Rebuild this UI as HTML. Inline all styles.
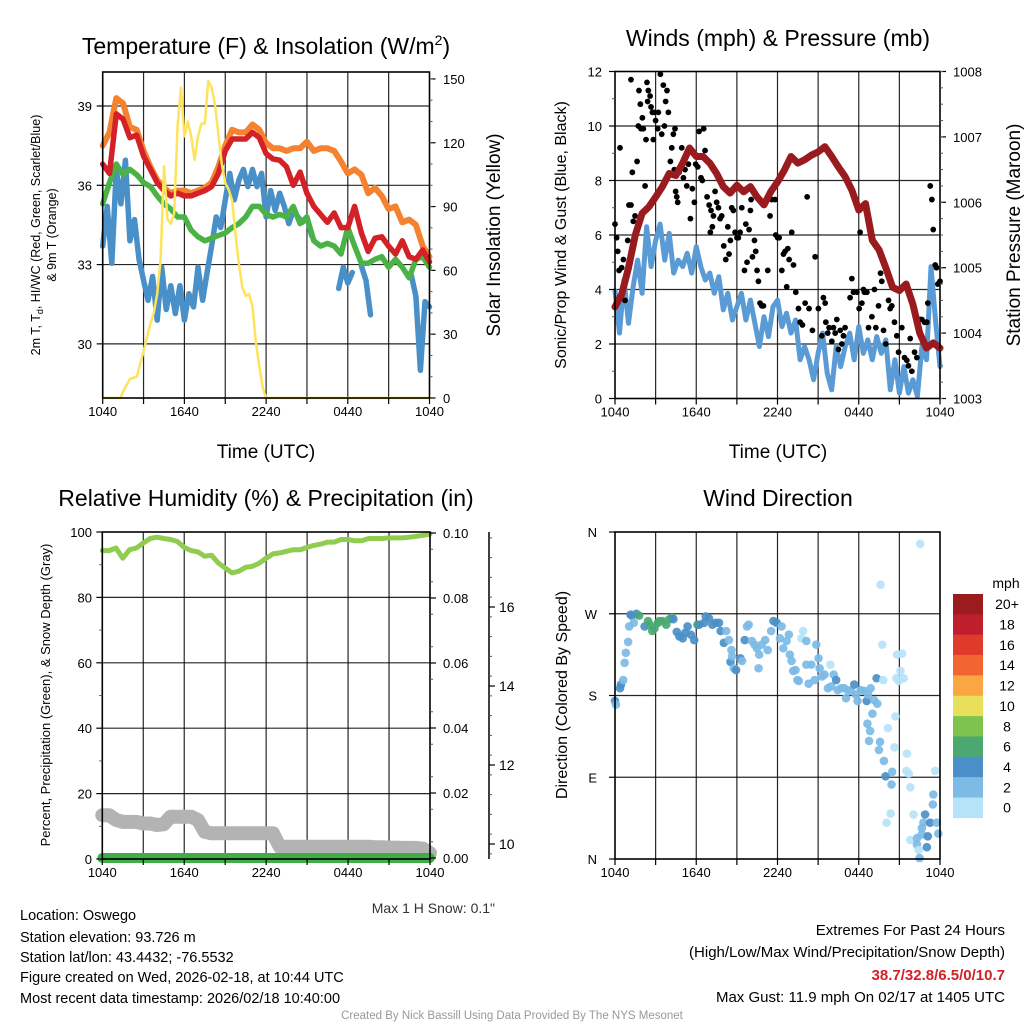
<!DOCTYPE html>
<html><head><meta charset="utf-8"><style>
html,body{margin:0;padding:0;background:#fff;}
svg{display:block;font-family:"Liberation Sans",Arial,sans-serif;}
</style></head><body>
<svg id="c" width="1024" height="1024" viewBox="0 0 1024 1024">
<g id="grid"></g><g id="marks"></g><g id="axes"></g>
<g id="texts" fill="#000">
<text x="266" y="54" font-size="23" text-anchor="middle">Temperature (F) &amp; Insolation (W/m<tspan dy="-9" font-size="14">2</tspan><tspan dy="9">)</tspan></text>
<text x="778" y="46" font-size="23" text-anchor="middle">Winds (mph) &amp; Pressure (mb)</text>
<text x="266" y="506" font-size="23" text-anchor="middle">Relative Humidity (%) &amp; Precipitation (in)</text>
<text x="778" y="506" font-size="23" text-anchor="middle">Wind Direction</text>
<text x="266" y="458" font-size="19" text-anchor="middle">Time (UTC)</text>
<text x="778" y="458" font-size="19" text-anchor="middle">Time (UTC)</text>
<text transform="translate(40,235) rotate(-90)" font-size="12.5" text-anchor="middle">2m T, T<tspan dy="3" font-size="9">d</tspan><tspan dy="-3">, HI/WC (Red, Green, Scarlet/Blue)</tspan></text>
<text transform="translate(56,235) rotate(-90)" font-size="12.5" text-anchor="middle">&amp; 9m T (Orange)</text>
<text transform="translate(500,235) rotate(-90)" font-size="19" text-anchor="middle">Solar Insolation (Yellow)</text>
<text transform="translate(566,235) rotate(-90)" font-size="16" text-anchor="middle">Sonic/Prop Wind &amp; Gust (Blue, Black)</text>
<text transform="translate(1020,235) rotate(-90)" font-size="19" text-anchor="middle">Station Pressure (Maroon)</text>
<text transform="translate(50,695) rotate(-90)" font-size="13" text-anchor="middle">Percent, Precipitation (Green), &amp; Snow Depth (Gray)</text>
<text transform="translate(567,695) rotate(-90)" font-size="16" text-anchor="middle">Direction (Colored By Speed)</text>
<text x="495" y="913" font-size="14" text-anchor="end" fill="#333">Max 1 H Snow: 0.1"</text>
<g font-size="14.5">
<text x="20" y="920">Location: Oswego</text>
<text x="20" y="942">Station elevation: 93.726 m</text>
<text x="20" y="962">Station lat/lon: 43.4432; -76.5532</text>
<text x="20" y="982">Figure created on Wed, 2026-02-18, at 10:44 UTC</text>
<text x="20" y="1003">Most recent data timestamp: 2026/02/18 10:40:00</text>
</g>
<g font-size="15" text-anchor="end">
<text x="1005" y="935">Extremes For Past 24 Hours</text>
<text x="1005" y="957">(High/Low/Max Wind/Precipitation/Snow Depth)</text>
<text x="1005" y="980" fill="#d42027" font-weight="bold">38.7/32.8/6.5/0/10.7</text>
<text x="1005" y="1002">Max Gust: 11.9 mph On 02/17 at 1405 UTC</text>
</g>
<text x="512" y="1019" font-size="11.5" text-anchor="middle" fill="#999">Created By Nick Bassill Using Data Provided By The NYS Mesonet</text>
</g>
</svg>
<script>
// ---- data ----
const xTickLabels = ["1040","1640","2240","0440","1040"];
const tempTicks = [30,33,36,39];
const solarTicks = [0,30,60,90,120,150];
const windTicks = [0,2,4,6,8,10,12];
const pressTicks = [1003,1004,1005,1006,1007,1008];
const rhTicks = [0,20,40,60,80,100];
const precipTicks = ["0.00","0.02","0.04","0.06","0.08","0.10"];
const snowTicks = [10,12,14,16];
const dirTicks = ["N","E","S","W","N"];
const speedBins = ["0","2","4","6","8","10","12","14","16","18","20+"];
// half-hour series (0..24 h)
const temp9m = [37.5,38.0,39.3,39.1,38.2,38.1,37.3,36.7,36.2,35.9,35.7,35.8,35.8,35.7,35.8,35.9,36.1,36.7,37.5,38.1,38.0,38.0,38.3,38.1,37.6,37.4,37.4,37.3,37.4,37.4,37.65,37.3,37.4,37.4,37.3,36.9,36.45,36.6,36.4,35.7,35.9,35.6,35.1,35.2,34.6,34.7,34.5,33.7,33.3];
const temp2m = [36.8,36.45,38.7,38.5,37.8,37.9,37.1,36.6,36.1,35.8,35.6,35.7,35.6,35.6,35.7,35.8,35.95,36.45,37.3,37.75,37.75,37.75,38.0,37.8,37.2,37.0,36.95,36.7,36.0,36.5,35.7,35.2,34.9,34.6,34.95,34.4,34.4,35.2,34.2,33.5,34.0,34.05,33.7,33.4,33.9,33.3,33.2,33.55,33.1];
const dewpt = [35.3,36.1,36.8,36.4,36.6,36.4,36.1,35.95,35.6,35.3,35.1,34.8,34.8,34.3,34.05,33.9,34.0,34.1,34.2,34.4,34.55,34.8,35.2,35.2,34.9,34.8,34.9,34.8,35.2,34.55,34.8,33.9,33.7,33.8,33.7,33.4,34.4,33.7,33.05,33.05,33.2,33.3,32.9,33.2,32.9,32.5,33.2,33.3,32.9];
// 20-minute series (0..24 h), null = missing
const windChill = [33.7,35.2,33.05,36.6,35.3,36.95,33.9,34.7,33.2,32.4,31.65,32.55,30.9,32.9,31.3,32.2,31.15,32.2,30.9,31.9,31.4,32.9,31.65,32.7,33.7,34.8,34.4,35.45,36.45,35.45,36.2,36.6,35.95,36.6,35.95,36.45,34.8,35.8,35.05,35.7,35.2,34.55,35.05,34.8,34.6,34.8,34.1,null,null,null,null,null,32.1,32.9,32.3,32.7,null,32.95,32.4,31.1,null,null,null,null,null,null,null,null,32.6,31.8,29.0,31.6,31.4];
const solarTimes = [0,1.3,1.5,2,2.5,3,3.5,3.75,4,4.25,4.5,4.75,5,5.25,5.5,5.75,6,6.25,6.5,6.75,7,7.25,7.5,7.75,8,8.25,8.5,8.75,9,9.25,9.5,9.75,10,10.25,10.5,10.75,11,11.25,11.5,11.75,12,24];
const solarVals = [0,0,3,9,10,22,35,40,49,65,109,84,82,87,128,146,123,130,123,112,123,129,129,149,146,138,124,110,101,98,93,77,63,52,48,49,43,26,15,5,0,0];
const pressure = [1004.40,1004.6,1005.0,1005.5,1005.83,1005.93,1006.08,1006.24,1006.44,1006.41,1006.6,1006.83,1006.7,1006.7,1006.6,1006.44,1006.24,1006.14,1006.26,1006.16,1006.24,1006.08,1005.96,1006.16,1006.31,1006.49,1006.7,1006.6,1006.65,1006.72,1006.77,1006.85,1006.7,1006.54,1006.39,1006.18,1005.88,1005.98,1005.42,1005.27,1005.0,1004.7,1004.65,1004.75,1004.44,1004.0,1003.77,1003.85,1003.77];
const sonicWind = [3.96,2.4,4.35,2.76,4.1,5.08,3.86,6.3,4.84,5.8,6.4,5.08,6.06,4.6,5.08,4.84,5.33,4.6,5.57,4.84,4.35,4.6,3.86,4.47,3.25,3.86,2.88,3.37,3.86,2.88,3.61,2.76,1.91,3.0,2.27,3.37,3.61,2.64,3.13,2.4,2.88,1.42,1.91,1.42,0.69,1.66,2.4,0.93,0.32,1.91,1.17,1.91,2.4,1.42,2.64,1.66,2.15,1.42,2.27,1.66,2.15,0.32,1.42,0.2,1.17,0.2,0.69,0.08,1.91,1.42,4.84,2.88,1.17];
const gustTimes = [0,0.12,0.2,0.3,0.37,0.49,0.62,0.74,0.94,1.03,1.18,1.28,1.35,1.48,1.63,1.18,1.77,1.87,1.72,2.02,1.92,2.09,2.22,2.29,2.36,2.46,2.59,2.41,2.66,2.76,2.83,2.91,3.0,3.15,3.2,3.35,3.45,3.57,3.65,3.74,3.84,3.94,4.09,4.19,4.31,4.43,4.38,4.48,4.56,4.63,4.73,4.93,5.05,5.17,5.3,5.42,5.57,5.71,5.86,5.96,6.11,6.21,6.35,6.45,6.55,6.65,6.8,6.95,7.04,7.09,7.19,7.27,7.39,7.51,7.64,7.76,7.88,8.03,8.18,8.33,8.42,8.52,8.62,8.74,8.87,9.01,9.11,9.24,9.36,9.56,9.66,9.75,9.9,10.0,10.05,10.15,10.3,10.39,10.49,10.59,10.71,10.84,10.96,11.28,11.45,11.58,11.82,11.87,12.02,12.12,12.32,12.44,12.56,12.68,12.76,12.86,13.05,13.18,13.35,13.55,13.67,13.84,14.04,14.19,14.33,14.58,14.78,15.02,15.27,15.39,15.52,15.57,15.71,15.81,16.01,16.13,16.26,16.38,16.5,16.63,16.75,16.87,16.99,17.36,17.49,17.61,17.86,18.03,18.1,18.23,18.35,18.42,18.6,18.72,18.97,19.16,19.26,19.46,19.61,19.7,19.83,20.0,20.2,20.32,20.44,20.64,20.81,20.94,21.18,21.38,21.55,21.67,21.8,21.92,22.12,22.29,22.54,22.66,22.86,23.03,23.1,23.28,23.4,23.5,23.65,23.74,23.84,24.0];
const gustVals = [6.4,5.9,5.4,4.7,9.2,4.8,5.1,3.6,5.8,7.1,7.1,8.3,6.5,6.7,8.7,11.7,11.3,10.8,10.0,10.3,9.9,9.9,7.8,9.5,11.6,11.3,11.1,10.9,10.7,10.5,9.5,10.5,10.2,9.9,10.5,11.9,9.7,11.5,10.0,10.9,11.3,10.5,8.7,9.2,9.7,9.9,8.4,7.6,7.4,7.2,8.3,9.2,8.1,8.4,7.8,8.6,6.6,7.7,7.2,8.6,8.5,9.8,8.1,8.0,9.9,9.1,7.4,7.1,6.1,6.9,6.3,6.7,7.6,7.2,7.0,6.6,6.7,5.6,5.1,6.3,5.3,5.8,7.0,6.9,6.1,5.9,5.9,6.1,7.0,4.7,6.4,5.0,6.2,6.9,7.3,5.2,5.8,5.4,4.7,4.3,3.5,3.4,3.4,4.7,6.7,7.3,7.3,6.0,5.9,5.9,4.7,5.3,5.4,4.1,5.5,5.1,6.1,4.9,3.9,3.3,2.8,2.7,3.5,7.4,3.3,2.5,5.2,3.3,2.3,3.7,3.5,2.8,2.4,2.6,2.1,2.6,2.4,2.9,1.8,2.5,2.0,2.3,2.6,3.7,4.4,3.9,3.9,3.3,6.1,3.5,4.0,3.9,3.9,2.6,3.0,4.0,2.6,3.4,4.6,4.3,2.5,2.0,3.6,3.3,3.4,2.8,2.3,1.7,2.6,1.5,1.4,1.2,2.2,1.0,1.7,1.5,2.9,2.9,2.8,2.8,3.5,7.8,7.3,6.2,4.9,4.8,4.2,4.3];
const relHum = [94.3,94.3,95.1,92.0,94.6,95.1,96.6,98.0,98.4,98.0,97.7,97.1,95.3,94.3,93.9,92.6,92.9,90.5,89.0,87.5,88.0,89.2,89.5,90.5,92.0,93.3,93.6,94.1,94.6,94.6,95.3,95.9,96.3,96.9,96.9,97.7,97.7,97.3,97.3,98.0,98.0,98.0,98.2,98.2,98.2,98.4,98.7,99.0,99.4];
const snowDepth = [10.73,10.73,10.61,10.56,10.56,10.56,10.52,10.52,10.48,10.5,10.69,10.69,10.69,10.69,10.61,10.31,10.27,10.27,10.27,10.27,10.27,10.27,10.27,10.27,10.27,10.27,9.93,9.93,9.93,9.93,9.93,9.93,9.93,9.93,9.93,9.93,9.93,9.93,9.93,9.93,9.92,9.92,9.91,9.91,9.9,9.9,9.9,9.88,9.77];
const precip = [0,0,0,0,0,0,0,0,0,0,0,0,0,0,0,0,0,0,0,0,0,0,0,0,0,0,0,0,0,0,0,0,0,0,0,0,0,0,0,0,0,0,0,0,0,0,0,0,0];
const dirTimes = [0,0.07,0.37,0.44,0.61,0.71,0.8,0.97,1.05,1.15,1.24,1.39,1.58,1.78,2.19,2.44,2.56,2.75,2.92,3.17,3.29,3.53,3.78,4.02,4.22,4.31,4.56,4.75,5.0,5.19,5.36,5.6,5.85,6.09,6.21,6.58,6.7,6.94,7.19,7.43,7.68,7.8,8.04,8.21,8.41,8.6,8.53,8.65,8.77,8.94,9.26,9.38,9.58,9.75,9.87,10.11,10.31,10.48,10.65,10.6,10.84,11.09,11.28,11.53,11.7,11.94,12.18,12.3,12.43,12.67,12.84,12.91,13.04,13.16,13.33,13.47,13.57,13.77,13.89,14.13,14.13,14.3,14.5,14.74,14.86,15.03,15.11,15.28,15.47,15.72,15.91,15.96,16.15,16.33,16.45,16.69,16.93,17.06,17.18,17.42,17.67,17.79,17.91,18.15,18.4,18.59,18.69,18.88,19.13,19.37,19.01,18.64,18.84,18.76,19.32,19.61,19.74,19.81,19.57,19.49,19.86,19.98,20.47,20.42,20.71,20.15,20.64,20.35,20.05,21.56,21.52,21.69,21.81,22.05,21.81,22.3,22.42,22.49,22.54,20.83,21.2,21.08,21.32,20.95,20.78,22.66,22.9,22.78,23.1,23.03,23.27,23.51,23.64,23.47,23.76,23.88,22.3,22.66];
const dirVals = [174,170,188,192,197,216,227,239,256,269,268,260,270,268,256,262,258,251,254,260,262,262,258,264,266,264,250,245,243,249,256,247,241,258,258,260,267,265,258,260,260,251,238,251,241,230,217,223,210,208,221,218,241,256,258,240,236,232,225,210,236,241,230,251,262,260,243,256,232,240,247,225,218,207,208,197,196,243,251,240,214,193,214,197,236,221,210,201,203,188,214,190,203,197,186,188,188,177,186,185,192,181,174,186,185,174,181,188,175,171,160,149,141,130,199,302,236,197,129,120,108,91,96,82,157,144,123,50,40,116,97,94,79,49,21,16,10,1,347,225,226,207,199,196,199,27,49,40,25,13,40,71,97,60,40,28,23,34];
const dirSpeed = [5,3,5,5,3,3,3,3,3,5,5,3,5,6.5,5,6.5,6.5,6.5,6.5,6.5,6.5,6.5,6.5,6.5,6.5,5,5,5,5,5,5,5,5,6.5,5,5,5,5,5,5,5,5,5,3,3,3,5,3,3,5,5,3,5,3,3,3,3,3,3,3,3,3,3,3,5,5,3,3,3,3,3,3,3,3,3,3,3,1.5,1.5,3,3,3,3,3,3,3,3,3,3,3,1.5,3,3,5,3,3,3,3,3,3,5,3,3,3,3,5,3,3,3,3,3,3,3,3,5,1.5,1.5,1.5,3,3,3,5,3,3,1.5,1.5,1.5,1.5,1.5,1.5,1.5,1.5,1.5,1.5,1.5,3,1.5,3,1.5,1.5,1.5,1.5,1.5,1.5,1.5,3,5,3,5,5,5,3,1.5,3,3,3,3,3];
const binColors = ["#b6e3f8","#7cbbe6","#4a8fc7","#4aa870","#7ec34e","#e8e05a","#f9a643","#f26430","#e03a2b","#bf1e2d","#9b1b1e"];

// ---- helpers ----
const NS="http://www.w3.org/2000/svg";
const G=id=>document.getElementById(id);
function mk(tag,attrs,parent){const e=document.createElementNS(NS,tag);for(const k in attrs)e.setAttribute(k,attrs[k]);(parent||G('marks')).appendChild(e);return e;}
const P1={x0:102.7,x1:429.5,top:72,bot:398};
const P2={x0:615,x1:940,top:71.5,bot:398.5};
const P3={x0:102.3,x1:430,top:532,bot:859};
const P4={x0:615,x1:940,top:532,bot:859};
const sx=(p,t)=>p.x0+t/24*(p.x1-p.x0);
const yTemp=v=>106+(39-v)*26.43;
const ySolar=v=>398-v*2.127;
const yWind=v=>398.5-v*27.25;
const yPress=v=>398.5-(v-1003)*65.4;
const yRH=v=>859-v*3.27;
const yPrecip=v=>858-v*3250;
const ySnow=v=>844-(v-10)*39.5;
const yDir=v=>859-v/360*327;

function pathFrom(p,times,vals,yf){let d="",pen=false;for(let i=0;i<vals.length;i++){if(vals[i]==null){pen=false;continue;}const x=sx(p,times[i]).toFixed(1),y=yf(vals[i]).toFixed(1);d+=(pen?"L":"M")+x+","+y;pen=true;}return d;}
function stepTimes(n){const a=[];for(let i=0;i<n;i++)a.push(i*24/(n-1));return a;}
function line(p,times,vals,yf,color,w,name){const e=mk('path',{d:pathFrom(p,times,vals,yf),fill:'none',stroke:color,'stroke-width':w,'stroke-linejoin':'round','stroke-linecap':'round'});

}

function frame(p,name,hticks,hf){
  const g=G('grid');
  for(let h=3;h<24;h+=3){const x=sx(p,h);
    const l=mk('line',{x1:x,x2:x,y1:p.top,y2:p.bot,stroke:'#000','stroke-width':1.2,'stroke-opacity':0.85},g);
    
    }
  hticks.forEach(v=>{const y=hf(v);if(y<=p.top+1||y>=p.bot-1)return;
    const l=mk('line',{x1:p.x0,x2:p.x1,y1:y,y2:y,stroke:'#000','stroke-width':1.2,'stroke-opacity':0.85},g);
    
    });
  const r=mk('rect',{x:p.x0,y:p.top,width:p.x1-p.x0,height:p.bot-p.top,fill:'none',stroke:'#000','stroke-width':1.6},G('axes'));
  
  
  for(let h=0;h<=24;h+=3){const x=sx(p,h);mk('line',{x1:x,x2:x,y1:p.bot,y2:p.bot+6,stroke:'#000','stroke-width':1.2},G('axes'));}
}
function xLabels(p,name){xTickLabels.forEach((s,i)=>{const t=mk('text',{x:sx(p,i*6),y:p.bot+18,'font-size':13,'text-anchor':'middle'},G('axes'));t.textContent=s;

});}
function yLabels(vals,labels,yf,x,anchor,tickX1,tickX2,name,fs){vals.forEach((v,i)=>{const y=yf(v);mk('line',{x1:tickX1,x2:tickX2,y1:y,y2:y,stroke:'#000','stroke-width':1.2},G('axes'));
const t=mk('text',{x:x,y:y+5,'font-size':fs||13,'text-anchor':anchor},G('axes'));t.textContent=labels[i];

});}
function minor(from,to,step,yf,x1,x2){for(let v=from;v<=to+1e-9;v+=step){const y=yf(v);mk('line',{x1:x1,x2:x2,y1:y,y2:y,stroke:'#555','stroke-width':1},G('axes'));}}

// ---- panel 1 ----
frame(P1,'temp',tempTicks,yTemp);xLabels(P1,'temp');
yLabels(tempTicks,tempTicks.map(String),yTemp,92,'end',P1.x0-6,P1.x0,'temp-y');
yLabels(solarTicks,solarTicks.map(String),ySolar,443,'start',P1.x1,P1.x1+6,'solar-y');
minor(10,150,10,ySolar,P1.x1,P1.x1+3);
const tH=stepTimes(49),t20=stepTimes(73);
line(P1,tH,temp9m,yTemp,'#f5822f',6,'temp-9m-line');
line(P1,t20,windChill,yTemp,'#4a90c8',5.5,'heat-index-windchill-line');
line(P1,tH,dewpt,yTemp,'#4bb245',5.5,'dewpoint-line');
line(P1,tH,temp2m,yTemp,'#d42027',5.5,'temp-2m-line');
line(P1,solarTimes,solarVals,ySolar,'#fde45c',2.5,'solar-insolation-line');

// ---- panel 2 ----
frame(P2,'wind',windTicks,yWind);xLabels(P2,'wind');
yLabels(windTicks,windTicks.map(String),yWind,602,'end',P2.x0-6,P2.x0,'wind-y');
yLabels(pressTicks,pressTicks.map(String),yPress,953,'start',P2.x1,P2.x1+6,'pressure-y');
minor(1003,1008,0.25,yPress,P2.x1,P2.x1+3);minor(1,11,2,yWind,P2.x0-3,P2.x0);
line(P2,t20,sonicWind,yWind,'#5a9bd5',5,'sonic-wind-line');
gustVals.forEach((v,i)=>{const c=mk('circle',{cx:sx(P2,gustTimes[i]),cy:yWind(v),r:2.9,fill:'#000'});

});
line(P2,tH,pressure,yPress,'#9a1b1f',7,'pressure-line');

// ---- panel 3 ----
frame(P3,'rh',rhTicks,yRH);xLabels(P3,'rh');
yLabels(rhTicks,rhTicks.map(String),yRH,92,'end',P3.x0-6,P3.x0,'rh-y');
yLabels(precipTicks.map(Number),precipTicks,yPrecip,443,'start',P3.x1,P3.x1+6,'precip-y');
minor(0.005,0.1,0.01,yPrecip,P3.x1,P3.x1+3);minor(10,90,20,yRH,P3.x0-3,P3.x0);
mk('line',{x1:489,x2:489,y1:P3.top,y2:P3.bot,stroke:'#000','stroke-width':1.5},G('axes'));
yLabels(snowTicks,snowTicks.map(String),ySnow,499,'start',489,495,'snow-y',14);
minor(9.75,17.75,0.5,ySnow,489,492);
line(P3,tH,snowDepth,ySnow,'#b3b3b3',14,'snow-depth-line');
line(P3,tH,precip,yPrecip,'#3fae49',10,'precip-line');
line(P3,tH,relHum,yRH,'#8fcc4f',5,'rh-line');

// ---- panel 4 ----
const dirDeg=[0,90,180,270,360];
frame(P4,'wdir',dirDeg,yDir);xLabels(P4,'wdir');
yLabels(dirDeg,dirTicks,yDir,597,'end',P4.x0-6,P4.x0,'wdir-y');
dirVals.forEach((v,i)=>{const b=Math.min(10,Math.floor(dirSpeed[i]/2));const c=mk('circle',{cx:sx(P4,dirTimes[i]),cy:yDir(v),r:4.3,fill:binColors[b],'fill-opacity':0.92});

});
// colorbar
const cbTop=594,cbH=20.35;
const mph=mk('text',{x:1006,y:588,'font-size':14,'text-anchor':'middle'},G('axes'));mph.textContent='mph';


speedBins.slice().reverse().forEach((s,i)=>{const idx=10-i;
 const r=mk('rect',{x:953,y:cbTop+i*cbH,width:30,height:cbH+0.3,fill:binColors[idx]},G('axes'));
 
 
 const t=mk('text',{x:1007,y:cbTop+i*cbH+cbH/2+5,'font-size':14,'text-anchor':'middle'},G('axes'));t.textContent=s;
 
 });
</script>
</body></html>
